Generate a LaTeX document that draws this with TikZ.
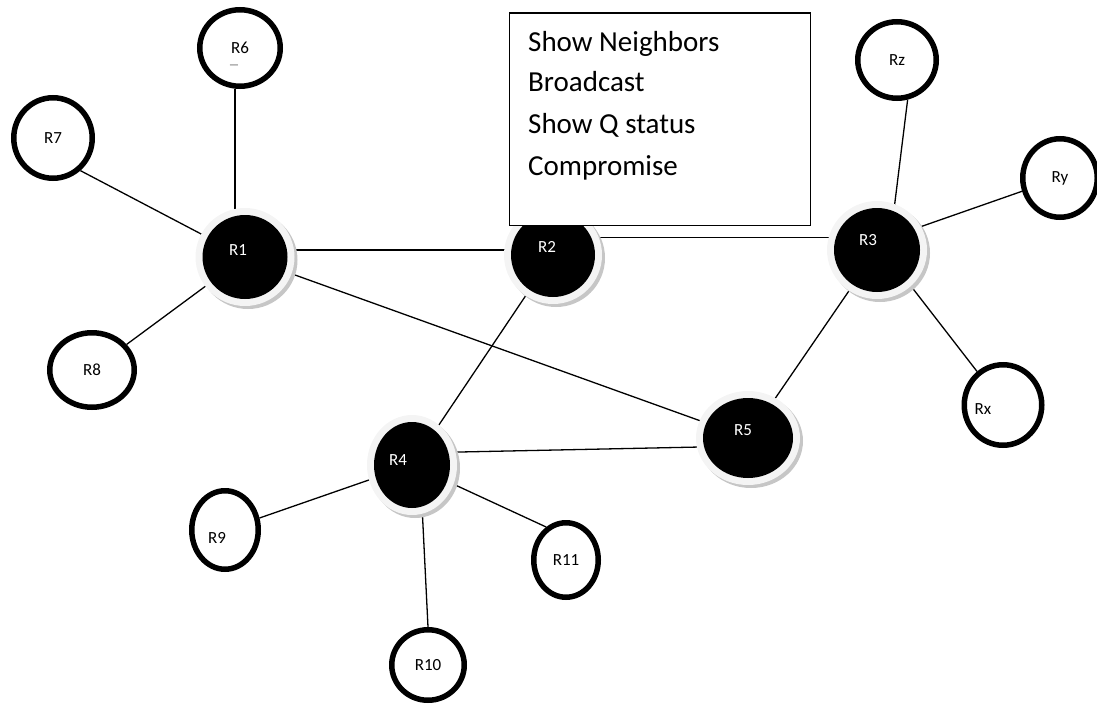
\documentclass[tikz,border=0pt]{standalone}
\usepackage{fontspec}
\setmainfont{Carlito}
\usetikzlibrary{shapes.geometric}
\pgfdeclarelayer{background}
\pgfsetlayers{background,main}
\begin{document}
\begin{tikzpicture}[x=1pt,y=-1pt,
  hub/.style={ellipse, fill=black, inner sep=0pt},
  hubtext/.style={text=white, inner sep=0pt, font=\fontsize{17}{20}\selectfont},
  leaf/.style={ellipse, draw=black, line width=5.5pt, fill=white, inner sep=0pt,
    font=\fontsize{17}{20}\selectfont},
  leaftext/.style={inner sep=0pt, font=\fontsize{17}{20}\selectfont},
  link/.style={draw=black, line width=1.3pt},
  ring/.style={fill=gray!9},
  ringshade/.style={fill=gray!45},
  menuline/.style={anchor=base west, inner sep=0pt, font=\fontsize{29}{35}\selectfont}]
\useasboundingbox (0,0) rectangle (1097,706);

% routers with a filled core
\node[hub, minimum width=85pt, minimum height=84pt,
  label={[name=R1l, hubtext, xshift=-7pt, yshift=7pt]center:R1}] (R1) at (245,257) {};
\node[hub, minimum width=84pt, minimum height=84pt,
  label={[name=R2l, hubtext, xshift=-6pt, yshift=8pt]center:R2}] (R2) at (553,255) {};
\node[hub, minimum width=86pt, minimum height=84pt,
  label={[name=R3l, hubtext, xshift=-9pt, yshift=10pt]center:R3}] (R3) at (877,250) {};
\node[hub, minimum width=76pt, minimum height=86pt,
  label={[name=R4l, hubtext, xshift=-14pt, yshift=5pt]center:R4}] (R4) at (412,465) {};
\node[hub, minimum width=90pt, minimum height=80pt,
  label={[name=R5l, hubtext, xshift=-5pt, yshift=8pt]center:R5}] (R5) at (748,438) {};

% outer routers
\node[leaf, minimum width=80.5pt, minimum height=76.5pt] (R6) at (240,48) {R6};
\node[inner sep=0pt, text=gray!60!black, font=\fontsize{11}{12}\selectfont] (R6d) at (234,67) {—};
\node[leaf, minimum width=78.5pt, minimum height=80.5pt] (R7) at (53,138) {R7};
\node[leaf, minimum width=84.5pt, minimum height=74.5pt] (R8) at (92,370) {R8};
\node[leaf, minimum width=78.5pt, minimum height=76.5pt] (Rz) at (897,60) {Rz};
\node[leaf, minimum width=74.5pt, minimum height=78.5pt] (Ry) at (1060,178) {Ry};
\node[leaf, minimum width=77.5pt, minimum height=80.5pt,
  label={[name=Rxl, leaftext, xshift=-20pt, yshift=-4pt]center:Rx}] (Rx) at (1003,405) {};
\node[leaf, minimum width=66.5pt, minimum height=78.5pt,
  label={[name=R9l, leaftext, xshift=-8pt, yshift=-8pt]center:R9}] (R9) at (225,530) {};
\node[leaf, minimum width=64.5pt, minimum height=74.5pt] (R11) at (566,560) {R11};
\node[leaf, minimum width=72.5pt, minimum height=70.5pt] (R10) at (428,665) {R10};

\begin{pgfonlayer}{background}
  % links
  \draw[link] ([xshift=-5pt]R6.south) -- ([xshift=-5pt]R6.south |- R1.center);
  \draw[link] (R7.-50) -- (R1);
  \draw[link] (R8) -- (R1);
  \draw[link] ([yshift=7pt]R1.center) -- ([yshift=7pt]R1.center -| R2.center);
  \draw[link] (R2.25) -- (R2.25 -| R3.center);
  \draw[link] (R1) -- (R5);
  \draw[link] (R2) -- (R4);
  \draw[link] (R3) -- (R5);
  \draw[link] ([yshift=12pt]R4.center) -- ([yshift=-8pt]R5.center);
  \draw[link] (R4) -- (R9);
  \draw[link] (R4.center) -- (R11.121);
  \draw[link] ([xshift=8pt]R4.center) -- (R10.north);
  \draw[link] ([xshift=12pt]R3.center) -- (Rz.-75);
  \draw[link] ([yshift=8pt]R3.center) -- (Ry);
  \draw[link] ([xshift=6pt]R3.center) -- (Rx);
  % soft rims around the filled routers
  \foreach \n/\a/\b in {R1/49.5/49, R2/49/49, R3/50/49, R4/45/50, R5/52/47}{
    \fill[ringshade] ([shift={(3pt,-3pt)}]\n.center) ellipse [x radius=\a pt, y radius=\b pt];
    \fill[ring] (\n.center) ellipse [x radius=\a pt, y radius=\b pt];
  }
\end{pgfonlayer}

% command menu
\node[draw=black, line width=1.5pt, fill=white, anchor=north west,
  minimum width=301pt, minimum height=212pt] (menu) at (508.5,12.5) {};
\node[menuline] (m1) at (528,52) {Show Neighbors};
\node[menuline] (m2) at (528,92) {Broadcast};
\node[menuline] (m3) at (528,133) {Show Q status};
\node[menuline] (m4) at (528,175) {Compromise};
\end{tikzpicture}
\end{document}
